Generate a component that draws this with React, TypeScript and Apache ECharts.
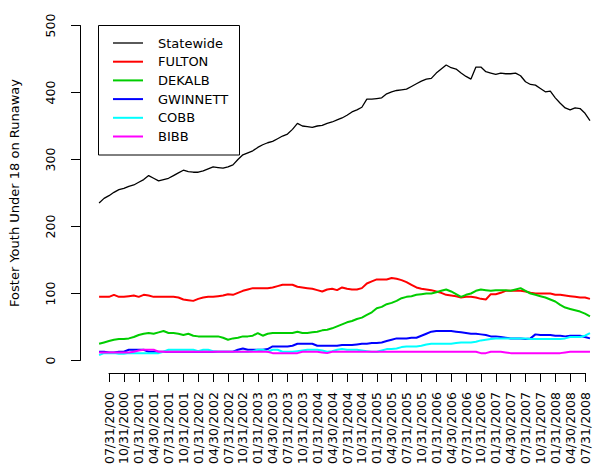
import React, { useEffect, useRef } from "react";
import * as echarts from "echarts";

// x tick labels (quarterly); month index 0 = 07/2000, index step = 1 month
const tickLabels = [
  "07/31/2000", "10/31/2000", "01/31/2001", "04/30/2001", "07/31/2001", "10/31/2001",
  "01/31/2002", "04/30/2002", "07/31/2002", "10/31/2002", "01/31/2003", "04/30/2003",
  "07/31/2003", "10/31/2003", "01/31/2004", "04/30/2004", "07/31/2004", "10/31/2004",
  "01/31/2005", "04/30/2005", "07/31/2005", "10/31/2005", "01/31/2006", "04/30/2006",
  "07/31/2006", "10/31/2006", "01/31/2007", "04/30/2007", "07/31/2007", "10/31/2007",
  "01/31/2008", "04/30/2008", "07/31/2008",
];
const firstMonth = -2; // data begins two months before 07/2000 (monthly values)

const seriesNames = ["Statewide", "FULTON", "DEKALB", "GWINNETT", "COBB", "BIBB"];
const seriesColors = ["#000000", "#FF0000", "#00CD00", "#0000FF", "#00FFFF", "#FF00FF"];

const statewide = [
  235, 242, 246, 251, 255, 257, 260, 262, 266, 270,
  276, 272, 268, 270, 272, 276, 280, 284, 282, 281,
  281, 283, 286, 289, 288, 287, 289, 292, 300, 307,
  310, 313, 318, 322, 325, 327, 331, 335, 338, 345,
  354, 350, 349, 348, 350, 351, 354, 356, 359, 362,
  366, 371, 374, 378, 390, 390, 391, 392, 398, 401,
  403, 404, 405, 409, 413, 417, 420, 421, 429, 435,
  441, 437, 435, 429, 424, 420, 438, 438, 431, 429,
  427, 429, 428, 428, 429, 425, 416, 412, 411, 406,
  401, 402, 392, 384, 377, 374, 377, 376, 369, 358,
];
const fulton = [
  95, 95, 95, 98, 95, 95, 96, 97, 95, 98,
  97, 95, 95, 95, 95, 95, 94, 91, 90, 89,
  92, 94, 95, 95, 96, 97, 99, 98, 101, 104,
  106, 108, 108, 108, 108, 109, 111, 113, 113, 113,
  110, 109, 108, 107, 105, 103, 106, 107, 105, 109,
  107, 106, 106, 108, 115, 118, 121, 121, 121, 123,
  122, 120, 117, 113, 109, 107, 106, 105, 103, 101,
  98, 97, 96, 94, 95, 95, 94, 92, 91, 99,
  99, 101, 104, 104, 104, 104, 103, 101, 100, 100,
  100, 100, 98, 98, 97, 96, 95, 94, 94, 92,
];
const dekalb = [
  25, 27, 29, 31, 32, 32, 33, 35, 38, 40,
  41, 40, 42, 44, 41, 41, 40, 38, 40, 37,
  36, 36, 36, 36, 36, 34, 31, 33, 34, 36,
  36, 37, 41, 37, 40, 41, 41, 41, 41, 41,
  43, 41, 41, 42, 43, 45, 46, 48, 51, 54,
  57, 59, 62, 64, 68, 72, 78, 80, 84, 86,
  89, 93, 95, 96, 98, 99, 100, 100, 102, 104,
  106, 103, 99, 95, 98, 100, 104, 106, 105, 104,
  105, 105, 105, 104, 106, 108, 104, 100, 98, 96,
  94, 91, 88, 83, 79, 77, 75, 73, 70, 66,
];
const gwinnett = [
  13, 13, 12, 12, 13, 13, 16, 16, 16, 16,
  13, 13, 13, 13, 13, 13, 13, 13, 13, 13,
  13, 13, 13, 13, 13, 13, 13, 13, 16, 18,
  16, 16, 16, 16, 17, 21, 21, 21, 21, 22,
  25, 25, 25, 25, 22, 22, 22, 22, 22, 23,
  23, 23, 24, 25, 25, 26, 26, 27, 29, 31,
  33, 33, 33, 34, 34, 37, 40, 43, 44, 44,
  44, 44, 43, 42, 41, 40, 40, 39, 38, 36,
  36, 35, 34, 33, 33, 33, 32, 33, 39, 38,
  38, 38, 37, 37, 36, 37, 37, 37, 35, 33,
];
const cobb = [
  8, 11, 11, 11, 10, 10, 11, 11, 11, 11,
  11, 11, 11, 13, 16, 16, 16, 16, 16, 16,
  14, 16, 16, 14, 13, 13, 13, 13, 13, 13,
  13, 14, 16, 16, 13, 16, 16, 13, 13, 13,
  14, 15, 16, 16, 16, 15, 13, 14, 16, 17,
  16, 16, 16, 15, 14, 13, 13, 15, 17, 17,
  18, 20, 21, 21, 21, 22, 24, 25, 25, 25,
  25, 25, 26, 27, 27, 27, 28, 30, 31, 32,
  33, 33, 33, 33, 33, 33, 33, 32, 32, 32,
  32, 32, 32, 32, 33, 35, 35, 35, 37, 41,
];
const bibb = [
  12, 12, 12, 12, 12, 12, 12, 13, 15, 16,
  16, 16, 13, 13, 13, 13, 13, 13, 13, 13,
  13, 13, 13, 13, 13, 13, 13, 13, 13, 13,
  13, 13, 13, 13, 13, 11, 11, 11, 11, 11,
  11, 13, 13, 13, 13, 12, 11, 13, 13, 13,
  13, 13, 13, 13, 13, 13, 13, 13, 13, 13,
  13, 13, 13, 13, 13, 13, 13, 13, 13, 13,
  13, 13, 13, 13, 13, 13, 13, 11, 11, 13,
  13, 13, 12, 11, 11, 11, 11, 11, 11, 11,
  11, 11, 11, 11, 12, 13, 13, 13, 13, 13,
];
const allSeries = [statewide, fulton, dekalb, gwinnett, cobb, bibb];
const yTicks = { min: 0, max: 500, interval: 100 };
const yTitle = "Foster Youth Under 18 on Runaway";

const FONT = "DejaVu Sans";

export default function App() {
  const ref = useRef<HTMLDivElement>(null);
  useEffect(() => {
    if (!ref.current) return;
    const chart = echarts.init(ref.current, null, { renderer: "svg" });

    const legendTop = 43;
    const legendStep = 18.7;
    const legendGraphics: any[] = [
      {
        type: "rect",
        shape: { x: 98.5, y: 25.5, width: 141, height: 129.5 },
        style: { fill: "#fff", stroke: "#000", lineWidth: 1 },
        z: 100,
      },
    ];
    seriesNames.forEach((name, i) => {
      const y = legendTop + i * legendStep;
      legendGraphics.push({
        type: "line",
        shape: { x1: 113, y1: y, x2: 143, y2: y },
        style: { stroke: seriesColors[i], lineWidth: i === 0 ? 1.3 : 2 },
        z: 101,
      });
      legendGraphics.push({
        type: "text",
        x: 158,
        y: y,
        style: {
          text: name,
          fill: "#000",
          font: `13px "${FONT}"`,
          textAlign: "left",
          textVerticalAlign: "middle",
        },
        z: 101,
      });
    });

    chart.setOption({
      animation: false,
      backgroundColor: "#ffffff",
      grid: [
        { left: 80, right: 0, top: 25.5, bottom: 109.5 },
        { left: 109, right: 8, top: 200, bottom: 97 },
      ],
      xAxis: [
        {
          gridIndex: 0,
          type: "value",
          min: -5.849,
          max: 97.61,
          show: false,
        },
        {
          gridIndex: 1,
          type: "category",
          data: tickLabels,
          boundaryGap: false,
          position: "bottom",
          axisLine: { show: true, onZero: false, lineStyle: { color: "#000", width: 1 } },
          axisTick: { show: true, interval: 0, length: 9, lineStyle: { color: "#000", width: 1 } },
          axisLabel: {
            interval: 0,
            rotate: 90,
            margin: 19,
            color: "#000",
            fontSize: 12.5,
            fontFamily: FONT,
          },
          splitLine: { show: false },
        },
      ],
      yAxis: [
        {
          gridIndex: 0,
          type: "value",
          min: yTicks.min,
          max: yTicks.max,
          interval: yTicks.interval,
          axisLine: { show: true, onZero: false, lineStyle: { color: "#000", width: 1 } },
          axisTick: { show: true, length: 9, lineStyle: { color: "#000", width: 1 } },
          axisLabel: {
            rotate: 90,
            margin: 23,
            color: "#000",
            fontSize: 12.5,
            fontFamily: FONT,
          },
          splitLine: { show: false },
        },
        { gridIndex: 1, type: "value", show: false },
      ],
      graphic: [
        {
          type: "text",
          x: 14,
          y: 193,
          rotation: Math.PI / 2,
          style: {
            text: yTitle,
            fill: "#000",
            font: `13px "${FONT}"`,
            textAlign: "center",
            textVerticalAlign: "middle",
          },
        },
        ...legendGraphics,
      ],
      series: allSeries.map((vals, i) => ({
        name: seriesNames[i],
        type: "line",
        xAxisIndex: 0,
        yAxisIndex: 0,
        data: vals.map((v, k) => [firstMonth + k, v]),
        showSymbol: false,
        symbol: "none",
        lineStyle: { color: seriesColors[i], width: i === 0 ? 1.3 : 2 },
        itemStyle: { color: seriesColors[i] },
        z: 2 + i,
      })),
    });
    return () => chart.dispose();
  }, []);
  return (
    <div
      ref={ref}
      style={{ position: "fixed", left: 0, top: 0, width: 593, height: 470, background: "#fff" }}
    />
  );
}
